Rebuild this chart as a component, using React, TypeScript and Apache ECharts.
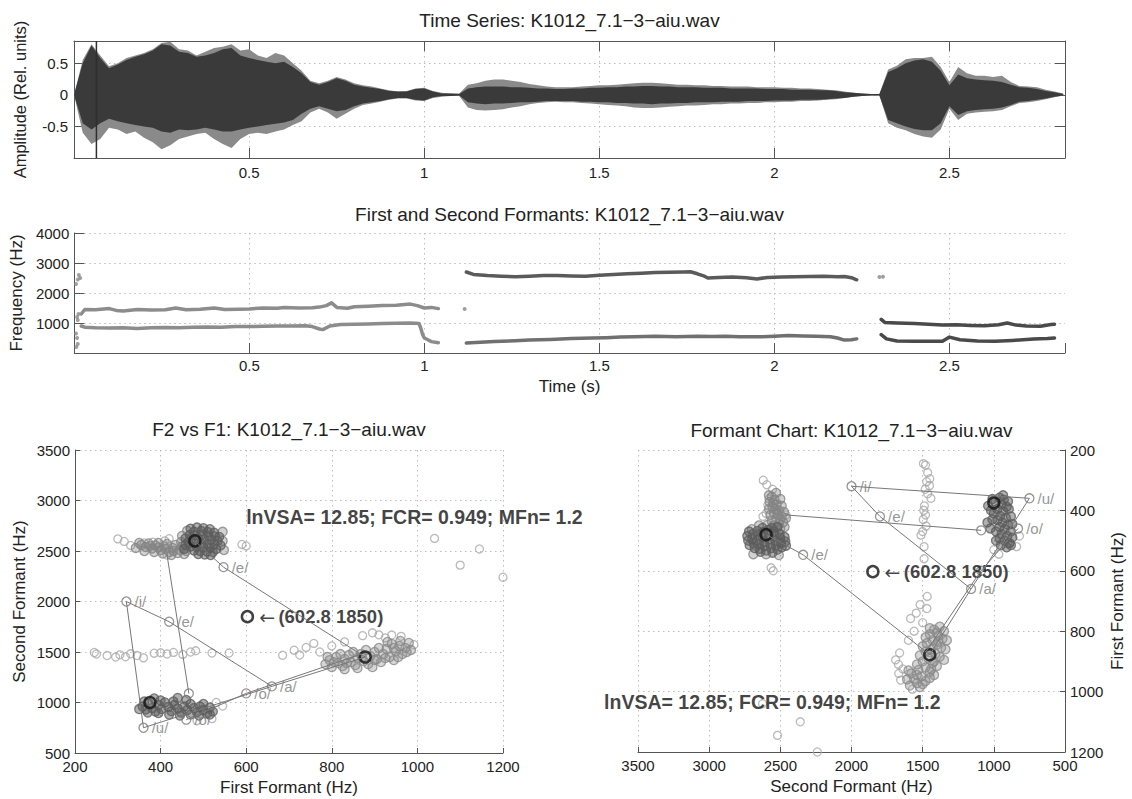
import React, { useEffect, useRef } from 'react';
import * as echarts from 'echarts';

const FONT = '"Liberation Sans", Arial, Helvetica, sans-serif';
const FILE = 'K1012_7.1\u22123\u2212aiu.wav';

// ---------- Time series: waveform envelopes, one value every 0.025 s ----------
const WAVE_STEP = 0.025;
const waveLightUp = [
  0.0, 0.55, 0.8, 0.62, 0.45, 0.5, 0.58, 0.62, 0.66, 0.72, 0.82, 0.84, 0.72, 0.7, 0.62, 0.68, 0.74, 0.76, 0.8, 0.7,
  0.72, 0.62, 0.58, 0.66, 0.62, 0.5, 0.38, 0.22, 0.18, 0.22, 0.28, 0.24, 0.18, 0.15, 0.13, 0.1, 0.07, 0.05, 0.06, 0.1,
  0.11, 0.06, 0.03, 0.02, 0.02, 0.16, 0.18, 0.22, 0.24, 0.24, 0.22, 0.2, 0.17, 0.15, 0.13, 0.12, 0.12, 0.12, 0.13, 0.14,
  0.15, 0.15, 0.16, 0.17, 0.18, 0.19, 0.19, 0.18, 0.17, 0.16, 0.16, 0.15, 0.15, 0.14, 0.14, 0.13, 0.13, 0.13, 0.12, 0.12,
  0.12, 0.11, 0.11, 0.1, 0.1, 0.09, 0.08, 0.07, 0.05, 0.03, 0.02, 0.01, 0.01, 0.4, 0.46, 0.56, 0.58, 0.58, 0.6, 0.44,
  0.2, 0.44, 0.34, 0.3, 0.3, 0.28, 0.3, 0.2, 0.14, 0.13, 0.12, 0.08, 0.05, 0.02,
];
const waveLightLo = [
  0.0, -0.6, -0.78, -0.7, -0.52, -0.55, -0.62, -0.58, -0.68, -0.75, -0.86, -0.8, -0.7, -0.66, -0.62, -0.6, -0.7, -0.78, -0.84, -0.7,
  -0.62, -0.6, -0.62, -0.58, -0.55, -0.48, -0.42, -0.28, -0.22, -0.28, -0.38, -0.3, -0.22, -0.16, -0.14, -0.11, -0.08, -0.06, -0.06, -0.09,
  -0.1, -0.05, -0.03, -0.02, -0.02, -0.2, -0.24, -0.25, -0.24, -0.23, -0.2, -0.18, -0.15, -0.13, -0.12, -0.11, -0.12, -0.12, -0.13, -0.14,
  -0.15, -0.16, -0.17, -0.18, -0.2, -0.21, -0.21, -0.2, -0.19, -0.18, -0.17, -0.17, -0.16, -0.15, -0.15, -0.14, -0.14, -0.13, -0.13, -0.12,
  -0.12, -0.11, -0.11, -0.1, -0.1, -0.09, -0.08, -0.07, -0.05, -0.03, -0.02, -0.01, -0.01, -0.45, -0.52, -0.56, -0.62, -0.66, -0.68, -0.55,
  -0.22, -0.4, -0.3, -0.28, -0.27, -0.26, -0.24, -0.18, -0.13, -0.12, -0.1, -0.07, -0.04, -0.01,
];
const waveDarkUp = [
  0.0, 0.5, 0.78, 0.58, 0.42, 0.48, 0.55, 0.6, 0.64, 0.7, 0.8, 0.78, 0.68, 0.66, 0.6, 0.62, 0.66, 0.72, 0.74, 0.62,
  0.58, 0.55, 0.52, 0.5, 0.52, 0.44, 0.34, 0.2, 0.16, 0.2, 0.26, 0.22, 0.16, 0.13, 0.11, 0.09, 0.06, 0.05, 0.05, 0.09,
  0.1, 0.05, 0.02, 0.02, 0.01, 0.1, 0.12, 0.13, 0.13, 0.13, 0.12, 0.12, 0.11, 0.1, 0.1, 0.09, 0.09, 0.1, 0.1, 0.11,
  0.11, 0.12, 0.12, 0.13, 0.13, 0.14, 0.14, 0.13, 0.13, 0.12, 0.12, 0.12, 0.11, 0.11, 0.11, 0.1, 0.1, 0.1, 0.1, 0.09,
  0.09, 0.09, 0.08, 0.08, 0.08, 0.07, 0.07, 0.06, 0.04, 0.03, 0.02, 0.01, 0.01, 0.36, 0.42, 0.5, 0.54, 0.56, 0.52, 0.38,
  0.15, 0.32, 0.26, 0.24, 0.23, 0.22, 0.2, 0.16, 0.12, 0.11, 0.09, 0.06, 0.04, 0.01,
];
const waveDarkLo = [
  0.0, -0.45, -0.55, -0.45, -0.38, -0.42, -0.45, -0.48, -0.5, -0.52, -0.58, -0.6, -0.55, -0.56, -0.55, -0.52, -0.55, -0.58, -0.58, -0.55,
  -0.52, -0.5, -0.48, -0.46, -0.44, -0.4, -0.3, -0.22, -0.18, -0.22, -0.26, -0.24, -0.18, -0.14, -0.12, -0.1, -0.07, -0.05, -0.05, -0.08,
  -0.09, -0.04, -0.02, -0.02, -0.01, -0.12, -0.14, -0.15, -0.14, -0.14, -0.13, -0.12, -0.12, -0.11, -0.1, -0.1, -0.1, -0.1, -0.11, -0.11,
  -0.12, -0.12, -0.13, -0.13, -0.14, -0.14, -0.15, -0.14, -0.14, -0.13, -0.13, -0.12, -0.12, -0.12, -0.11, -0.11, -0.11, -0.1, -0.1, -0.1,
  -0.09, -0.09, -0.09, -0.08, -0.08, -0.08, -0.07, -0.06, -0.05, -0.03, -0.02, -0.01, -0.01, -0.4, -0.45, -0.5, -0.54, -0.56, -0.56, -0.45,
  -0.18, -0.32, -0.26, -0.24, -0.23, -0.22, -0.2, -0.16, -0.11, -0.1, -0.08, -0.06, -0.03, -0.01,
];
const spikeTime = 0.064;
const timeTickLabels = [0.5, 1, 1.5, 2, 2.5];
const ampTickLabels = [-0.5, 0, 0.5];
const freqTickLabels = [1000, 2000, 3000, 4000];

// ---------- Formant tracks [time s, Hz] ----------
const f2A = [[0.02,1300],[0.03,1450],[0.06,1440],[0.1,1480],[0.12,1420],[0.14,1400],[0.18,1450],[0.22,1430],[0.26,1440],[0.29,1500],[0.32,1440],[0.36,1460],[0.4,1500],[0.43,1450],[0.47,1460],[0.5,1470],[0.54,1500],[0.58,1490],[0.6,1520],[0.64,1500],[0.68,1510],[0.7,1530],[0.72,1580],[0.735,1670],[0.75,1520],[0.78,1490],[0.8,1540],[0.84,1560],[0.88,1580],[0.92,1590],[0.96,1630],[0.98,1580],[1.0,1500],[1.02,1520],[1.04,1480]];
const f1A = [[0.02,900],[0.03,860],[0.06,840],[0.1,830],[0.14,840],[0.18,820],[0.22,840],[0.26,850],[0.3,840],[0.34,860],[0.38,870],[0.42,860],[0.46,880],[0.5,880],[0.54,890],[0.58,900],[0.62,900],[0.66,910],[0.68,880],[0.7,800],[0.71,780],[0.73,900],[0.76,950],[0.8,960],[0.84,970],[0.88,980],[0.92,990],[0.96,1000],[0.985,980],[0.99,820],[0.995,620],[1.0,500],[1.01,440],[1.02,380],[1.04,340]];
const f2I = [[1.12,2700],[1.14,2620],[1.18,2580],[1.22,2560],[1.26,2540],[1.3,2560],[1.34,2580],[1.38,2580],[1.42,2570],[1.46,2560],[1.5,2590],[1.54,2620],[1.58,2640],[1.62,2660],[1.66,2680],[1.7,2690],[1.74,2700],[1.76,2710],[1.78,2640],[1.8,2560],[1.81,2500],[1.84,2520],[1.88,2530],[1.92,2510],[1.95,2470],[1.98,2520],[2.02,2530],[2.06,2540],[2.1,2550],[2.14,2560],[2.18,2540],[2.2,2550],[2.22,2510],[2.235,2440]];
const f1I = [[1.12,330],[1.16,360],[1.2,380],[1.26,410],[1.3,430],[1.36,450],[1.42,480],[1.48,500],[1.52,510],[1.56,530],[1.6,540],[1.66,560],[1.72,540],[1.78,560],[1.82,550],[1.86,560],[1.9,540],[1.96,540],[2.0,560],[2.04,580],[2.08,570],[2.12,560],[2.16,540],[2.18,500],[2.2,430],[2.22,440],[2.235,470]];
const f2U = [[2.305,1120],[2.315,1020],[2.35,1000],[2.4,980],[2.44,960],[2.48,930],[2.52,940],[2.56,920],[2.6,910],[2.64,940],[2.665,1000],[2.69,930],[2.72,900],[2.76,890],[2.79,950],[2.8,960]];
const f1U = [[2.305,610],[2.32,470],[2.35,400],[2.4,390],[2.44,395],[2.48,390],[2.5,530],[2.53,440],[2.58,400],[2.63,390],[2.68,420],[2.74,470],[2.78,480],[2.8,500]];
const formantStray = [[0.005,2300],[0.01,2450],[0.013,2600],[0.017,2500],[0.008,1200],[0.012,1300],[0.01,1100],[0.005,650],[0.008,500],[0.01,300],[0.006,200],[1.115,1470],[2.3,2530],[2.31,2540]];

// ---------- Vowel space points [F1 Hz, F2 Hz] ----------
const iDense = [[470,2720],[485,2732],[500,2726],[515,2716],[478,2692],[495,2698],[510,2688],[525,2680],[468,2660],[482,2655],[498,2662],[512,2650],[527,2645],[472,2620],[488,2625],[503,2615],[518,2610],[533,2600],[465,2585],[480,2580],[495,2575],[510,2570],[525,2565],[470,2545],[485,2540],[500,2535],[516,2530],[530,2520],[478,2505],[492,2500],[508,2495],[522,2490],[488,2470],[503,2465],[517,2460],[455,2520],[458,2560],[540,2555],[537,2640],[458,2625]];
const iBand = [[355,2560],[365,2540],[372,2575],[380,2525],[388,2555],[395,2580],[400,2510],[408,2545],[415,2570],[420,2490],[428,2530],[435,2560],[440,2480],[445,2510],[450,2545],[455,2470],[460,2500],[342,2530],[362,2500],[385,2490],[405,2475],[425,2460],[448,2590],[430,2500],[412,2520],[395,2535],[375,2550],[350,2580],[545,2600],[545,2690],[462,2700],[450,2650],[548,2510]];
const uDense = [[358,960],[365,930],[372,990],[380,945],[388,910],[395,975],[402,935],[410,1000],[418,955],[425,915],[432,975],[440,940],[448,900],[455,960],[462,925],[470,985],[478,945],[485,905],[492,960],[500,925],[508,890],[515,950],[522,910],[370,900],[395,895],[420,880],[445,870],[470,880],[490,870],[400,1020],[430,1010],[460,1025],[385,1040],[440,1045],[362,1010],[350,935],[500,985],[515,880]];
const aCluster = [[785,1380],[795,1420],[800,1350],[810,1450],[815,1390],[825,1360],[830,1430],[840,1470],[845,1400],[855,1370],[860,1440],[868,1480],[875,1410],[885,1380],[890,1460],[900,1500],[905,1430],[915,1400],[920,1480],[928,1530],[935,1450],[945,1420],[950,1510],[958,1560],[965,1480],[972,1540],[980,1590],[940,1580],[910,1540],[880,1520],[850,1500],[820,1480],[790,1450],[960,1610],[930,1600],[985,1520],[895,1350],[860,1340],[830,1330],[805,1400],[870,1450],[925,1440],[955,1450],[945,1540],[975,1500],[900,1420],[835,1390]];
const sparsePts = [[300,2620],[315,2595],[330,2555],[362,2580],[382,2588],[410,2600],[420,2622],[590,2565],[600,2550],[415,2460],
  [245,1495],[250,1480],[275,1465],[295,1450],[305,1472],[318,1452],[330,1482],[345,1465],[360,1442],[385,1488],[400,1492],[415,1480],[430,1496],[452,1476],[470,1500],[482,1512],[520,1490],[560,1490],
  [1040,2625],[1100,2360],[1145,2520],[1200,2240],
  [685,1468],[712,1518],[740,1545],[758,1585],[772,1500],[800,1560],[830,1600],[725,1470],
  [872,1662],[895,1690],[910,1670],[925,1640],[992,1572],[962,1655],[940,1668],
  [485,820],[520,840],[545,965],[510,900],[530,1000]];
const refPts = [[320,2000],[420,1800],[660,1160],[600,1090],[360,750],[547,2340],[460,830],[466,1089]];
const refLabels = ['/i/','/e/','/a/','/o/','/u/','/e/','/o/',''];
const trajectories = [
  [[320,2000],[360,750]],
  [[320,2000],[420,1800],[660,1160]],
  [[360,750],[660,1160],[878,1450]],
  [[480,2600],[547,2340],[878,1450]],
  [[415,2460],[466,1089]],
  [[460,830],[600,1090],[870,1480]],
];
const vowelCenters = [[480,2600],[375,1000],[878,1450],[602.8,1850]];
const centroidText = '(602.8 1850)';
const statsText = 'lnVSA= 12.85; FCR= 0.949; MFn= 1.2';
const statsAnchorF1F2 = [600, 2840];
const statsAnchorF2F1 = [3738, 1035];

// ---------- styles ----------
const AXIS_COLOR = '#555';
const gridDots = { show: true, lineStyle: { color: '#bdbdbd', width: 1, type: [1.5, 3.5] } };
const axisLine = { show: true, onZero: false, lineStyle: { color: AXIS_COLOR, width: 1 } };
const tick = (len: number) => ({ show: true, inside: true, length: len, lineStyle: { color: AXIS_COLOR, width: 1 } });
const plain = (v: number) => String(v);
const lbl = (extra: any = {}) => ({ color: '#222', fontSize: 15, fontFamily: FONT, formatter: plain, ...extra });
const nameStyle = { color: '#222', fontSize: 17, fontFamily: FONT };
const noTrunc = { maxWidth: 600 };

function buildOption() {
  const swapper = (swap: boolean) => (p: number[]) => (swap ? [p[1], p[0]] : [p[0], p[1]]);

  const vowelSeries = (ax: number, swap: boolean) => {
    const m = swapper(swap);
    const base = { type: 'scatter', xAxisIndex: ax, yAxisIndex: ax, symbol: 'circle', silent: true };
    const out: any[] = [
      { ...base, data: sparsePts.map(m), symbolSize: 8, itemStyle: { color: 'rgba(0,0,0,0)', borderColor: '#a9a9a9', borderWidth: 1.3 } },
      { ...base, data: aCluster.map(m), symbolSize: 9, itemStyle: { color: 'rgba(140,140,140,0.45)', borderColor: '#8a8a8a', borderWidth: 1.3 } },
      { ...base, data: iBand.map(m), symbolSize: 9, itemStyle: { color: 'rgba(130,130,130,0.45)', borderColor: '#858585', borderWidth: 1.3 } },
      { ...base, data: iDense.map(m), symbolSize: 9, itemStyle: { color: 'rgba(90,90,90,0.6)', borderColor: '#5e5e5e', borderWidth: 1.3 } },
      { ...base, data: uDense.map(m), symbolSize: 9, itemStyle: { color: 'rgba(90,90,90,0.6)', borderColor: '#5e5e5e', borderWidth: 1.3 } },
    ];
    trajectories.forEach((tr) => {
      out.push({ type: 'line', xAxisIndex: ax, yAxisIndex: ax, data: tr.map(m), symbol: 'none', silent: true,
        lineStyle: { color: '#777', width: 1 } });
    });
    out.push({ ...base, symbolSize: 9,
      data: refPts.map((p, i) => ({ value: m(p), name: swap && i === 3 ? '' : refLabels[i] })),
      itemStyle: { color: 'rgba(0,0,0,0)', borderColor: '#7a7a7a', borderWidth: 1.3 },
      label: { show: true, position: 'right', distance: 3, formatter: '{b}', color: '#7a7a7a', fontSize: 15, fontFamily: FONT } });
    out.push({ ...base, symbolSize: 11,
      data: vowelCenters.map((p, i) => ({ value: m(p), name: i === 3 ? centroidText : '' })),
      itemStyle: { color: 'rgba(0,0,0,0)', borderColor: '#111', borderWidth: 2.5 },
      label: { show: true, position: 'right', distance: 5,
        formatter: (p: any) => (p.name ? '{a|\u2190} {b|' + p.name + '}' : ''),
        rich: {
          a: { fontFamily: '"DejaVu Sans", sans-serif', fontSize: 19, color: '#111' },
          b: { fontFamily: FONT, fontSize: 18.5, fontWeight: 'bold', color: '#111' },
        } } });
    out.push({ ...base, symbolSize: 0, clip: false,
      data: [{ value: swap ? statsAnchorF2F1 : statsAnchorF1F2, name: statsText }],
      label: { show: true, position: 'right', distance: 0, formatter: '{b}', color: '#111', fontSize: 19.5, fontWeight: 'bold', fontFamily: FONT } });
    return out;
  };

  const waveSeries = (up: number[], lo: number[], color: string) => ({
    type: 'custom', xAxisIndex: 0, yAxisIndex: 0, data: [[0, 0]], clip: true, silent: true,
    renderItem: (_p: any, api: any) => {
      const top = up.map((v, i) => api.coord([i * WAVE_STEP, v]));
      const bot = lo.map((v, i) => api.coord([i * WAVE_STEP, v])).reverse();
      return { type: 'polygon', shape: { points: top.concat(bot) }, style: { fill: color } };
    },
  });

  const track = (data: number[][], color: string) => ({
    type: 'line', xAxisIndex: 2, yAxisIndex: 2, data, symbol: 'none', silent: true,
    lineStyle: { color, width: 3.5, cap: 'round', join: 'round' },
  });

  const timeFmt = (v: number) => (timeTickLabels.includes(v) ? String(v) : '');
  const titleStyle = { fontSize: 19, fontWeight: 'normal', color: '#222', fontFamily: FONT };

  return {
    animation: false,
    backgroundColor: '#fff',
    textStyle: { fontFamily: FONT },
    title: [
      { text: 'Time Series: ' + FILE, left: 569.5, top: 11, textAlign: 'center', padding: 0, textStyle: titleStyle },
      { text: 'First and Second Formants: ' + FILE, left: 569.5, top: 205, textAlign: 'center', padding: 0, textStyle: titleStyle },
      { text: 'F2 vs F1: ' + FILE, left: 289, top: 420, textAlign: 'center', padding: 0, textStyle: titleStyle },
      { text: 'Formant Chart: ' + FILE, left: 851.5, top: 421, textAlign: 'center', padding: 0, textStyle: titleStyle },
    ],
    grid: [
      { left: 74, top: 41, width: 991, height: 117 },
      { left: 74, top: 233, width: 991, height: 120 },
      { left: 75, top: 450, width: 428, height: 303 },
      { left: 638, top: 450, width: 427, height: 302 },
    ],
    xAxis: [
      { gridIndex: 0, type: 'value', min: 0, max: 2.83, interval: 0.5, axisLine, axisTick: tick(10),
        axisLabel: lbl({ margin: 7, formatter: timeFmt }), splitLine: gridDots },
      { gridIndex: 0, type: 'value', position: 'top', min: 0, max: 2.83, interval: 0.5, axisLine, axisTick: tick(10),
        axisLabel: { show: false }, splitLine: { show: false } },
      { gridIndex: 1, type: 'value', min: 0, max: 2.83, interval: 0.5, axisLine, axisTick: tick(10),
        axisLabel: lbl({ margin: 5, formatter: timeFmt }), splitLine: { ...gridDots, showMaxLine: false },
        name: 'Time (s)', nameLocation: 'middle', nameGap: 25, nameTextStyle: nameStyle, nameTruncate: noTrunc },
      { gridIndex: 2, type: 'value', min: 200, max: 1200, interval: 200, axisLine, axisTick: tick(5),
        axisLabel: lbl({ margin: 6 }), splitLine: gridDots,
        name: 'First Formant (Hz)', nameLocation: 'middle', nameGap: 26, nameTextStyle: nameStyle, nameTruncate: noTrunc },
      { gridIndex: 3, type: 'value', inverse: true, min: 500, max: 3500, interval: 500, axisLine, axisTick: tick(5),
        axisLabel: lbl({ margin: 6 }), splitLine: gridDots,
        name: 'Second Formant (Hz)', nameLocation: 'middle', nameGap: 26, nameTextStyle: nameStyle, nameTruncate: noTrunc },
    ],
    yAxis: [
      { gridIndex: 0, type: 'value', min: -1, max: 0.85, interval: 0.5, axisLine, axisTick: tick(10),
        axisLabel: lbl({ margin: 6, formatter: (v: number) => (ampTickLabels.includes(v) ? String(v) : '') }), splitLine: gridDots,
        name: 'Amplitude (Rel. units)', nameLocation: 'middle', nameGap: 46, nameTextStyle: { ...nameStyle, fontSize: 16.5 }, nameTruncate: noTrunc },
      { gridIndex: 0, type: 'value', position: 'right', min: -1, max: 0.85, interval: 0.5, axisLine, axisTick: tick(10),
        axisLabel: { show: false }, splitLine: { show: false } },
      { gridIndex: 1, type: 'value', min: 0, max: 4000, interval: 1000, axisLine, axisTick: tick(10),
        axisLabel: lbl({ margin: 5, formatter: (v: number) => (freqTickLabels.includes(v) ? String(v) : '') }), splitLine: gridDots,
        name: 'Frequency (Hz)', nameLocation: 'middle', nameGap: 46, nameTextStyle: nameStyle, nameTruncate: noTrunc },
      { gridIndex: 2, type: 'value', min: 500, max: 3500, interval: 500, axisLine, axisTick: tick(5),
        axisLabel: lbl({ margin: 5 }), splitLine: gridDots,
        name: 'Second Formant (Hz)', nameLocation: 'middle', nameGap: 47, nameTextStyle: nameStyle, nameTruncate: noTrunc },
      { gridIndex: 3, type: 'value', position: 'right', inverse: true, min: 200, max: 1200, interval: 200, axisLine, axisTick: tick(5),
        axisLabel: lbl({ margin: 5 }), splitLine: gridDots,
        name: 'First Formant (Hz)', nameLocation: 'middle', nameGap: 44, nameTextStyle: nameStyle, nameTruncate: noTrunc },
    ],
    series: [
      waveSeries(waveLightUp, waveLightLo, '#8a8a8a'),
      waveSeries(waveDarkUp, waveDarkLo, '#3a3a3a'),
      { type: 'line', xAxisIndex: 0, yAxisIndex: 0, data: [[spikeTime, -1], [spikeTime, 0.85]], symbol: 'none', silent: true,
        lineStyle: { color: '#2e2e2e', width: 1.5 } },
      track(f2A, '#8c8c8c'),
      track(f1A, '#8c8c8c'),
      track(f2I, '#5a5a5a'),
      track(f1I, '#707070'),
      track(f2U, '#4a4a4a'),
      track(f1U, '#4a4a4a'),
      { type: 'scatter', xAxisIndex: 2, yAxisIndex: 2, data: formantStray, symbolSize: 4, silent: true, itemStyle: { color: '#888' } },
      ...vowelSeries(3, false),
      ...vowelSeries(4, true),
    ],
  };
}

export default function App() {
  const ref = useRef<HTMLDivElement>(null);
  useEffect(() => {
    if (!ref.current) return;
    const chart = echarts.init(ref.current, null, { renderer: 'svg' });
    chart.setOption(buildOption() as any);
    return () => chart.dispose();
  }, []);
  return <div ref={ref} style={{ position: 'fixed', left: 0, top: 0, width: 1132, height: 799, background: '#fff' }} />;
}
